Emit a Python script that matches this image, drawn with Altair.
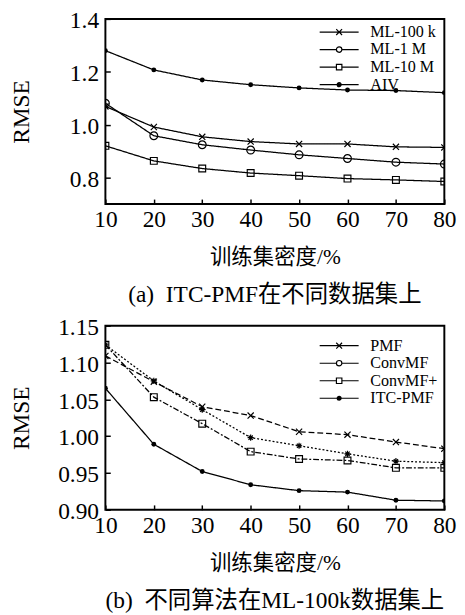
import altair as alt
import pandas as pd

# ---------------- data ----------------
density = [10, 20, 30, 40, 50, 60, 70, 80]

# (a) ITC-PMF on different datasets
names_a = ["ML-100 k", "ML-1 M", "ML-10 M", "AIV"]
ml100k = [1.069, 0.991, 0.954, 0.936, 0.927, 0.927, 0.916, 0.914]
ml1m = [1.081, 0.958, 0.924, 0.904, 0.886, 0.872, 0.858, 0.851]
ml10m = [0.920, 0.863, 0.834, 0.817, 0.807, 0.796, 0.791, 0.785]
aiv = [1.280, 1.207, 1.169, 1.151, 1.139, 1.131, 1.129, 1.121]
yticks_a = [0.8, 1.0, 1.2, 1.4]

# (b) different algorithms on ML-100k
names_b = ["PMF", "ConvMF", "ConvMF+", "ITC-PMF"]
pmf = [1.109, 1.074, 1.040, 1.028, 1.006, 1.002, 0.992, 0.983]
convmf = [1.124, 1.075, 1.036, 0.998, 0.987, 0.976, 0.966, 0.964]
convmf_plus = [1.124, 1.053, 1.017, 0.979, 0.969, 0.967, 0.957, 0.957]
itc_pmf = [1.065, 0.989, 0.952, 0.934, 0.926, 0.924, 0.913, 0.912]
yticks_b = [0.90, 0.95, 1.00, 1.05, 1.10, 1.15]

x_title = "训练集密度/%"
y_title = "RMSE"
caption_a = "(a)\u00a0\u00a0ITC-PMF在不同数据集上"
caption_b = "(b)\u00a0\u00a0不同算法在ML-100k数据集上"

FONT = "Liberation Serif, Noto Sans CJK SC"

# ---------------- marker shapes ----------------
X_PATH = "M-1,-1L1,1M-1,1L1,-1"
STAR_PATH = "M-1,0L1,0M0,-1L0,1M-0.7,-0.7L0.7,0.7M-0.7,0.7L0.7,-0.7"

# legend symbols: a short line with the marker in its middle (unit = 8 px)
LEG_X = "M-4,0H1M-1.875,-0.375L-1.125,0.375M-1.875,0.375L-1.125,-0.375"
LEG_O = ("M-4,0H-1.85M-1.15,0H1"
         "M-1.15,0A0.35,0.35 0 1,1 -1.85,0A0.35,0.35 0 1,1 -1.15,0")
LEG_S = "M-4,0H-1.85M-1.15,0H1M-1.85,-0.35H-1.15V0.35H-1.85Z"
LEG_D = ("M-4,0H1M-1.25,0A0.25,0.25 0 1,1 -1.75,0A0.25,0.25 0 1,1 -1.25,0"
         "M-1.38,0A0.12,0.12 0 1,1 -1.62,0A0.12,0.12 0 1,1 -1.38,0")
LEGEND_PATHS = [LEG_X, LEG_O, LEG_S, LEG_D]


def long_df(names, series):
    rows = []
    for n, s in zip(names, series):
        for xv, v in zip(density, s):
            rows.append({"density": xv, "rmse": v, "series": n})
    return pd.DataFrame(rows)


def panel(df, names, markers, dashes, legend_y, ydomain, yvalues, yformat,
          height, caption):
    base = alt.Chart(df)
    x = alt.X(
        "density:Q",
        scale=alt.Scale(domain=[10, 80], nice=False),
        axis=alt.Axis(values=density, title=x_title, format="d"),
    )
    y = alt.Y(
        "rmse:Q",
        scale=alt.Scale(domain=ydomain, nice=False, zero=False),
        axis=alt.Axis(values=yvalues, format=yformat, title=y_title,
                      titleX=-84, titleY=height / 2),
    )
    layers = []
    for n, dash in zip(names, dashes):
        layers.append(
            base.transform_filter(alt.datum.series == n)
            .mark_line(color="black", strokeWidth=1.3, strokeDash=dash, clip=True)
            .encode(x=x, y=y)
        )
    for n, (shape, size, filled) in zip(names, markers):
        layers.append(
            base.transform_filter(alt.datum.series == n)
            .mark_point(shape=shape, size=size, filled=filled, color="black",
                        strokeWidth=1.2, opacity=1, clip=True)
            .encode(x=x, y=y)
        )
    legend_layer = (
        base.transform_filter("datum.rmse < 0")
        .mark_point(filled=False, color="black", strokeWidth=1.2, opacity=1)
        .encode(
            x=x, y=y,
            shape=alt.Shape(
                "series:N",
                scale=alt.Scale(domain=names, range=LEGEND_PATHS),
                legend=alt.Legend(
                    title=None, orient="none", legendX=243, legendY=legend_y,
                    symbolSize=256, symbolStrokeWidth=1.2,
                    symbolStrokeColor="black", symbolFillColor="transparent",
                    labelFont=FONT, labelFontSize=16.5, labelColor="black",
                    labelOffset=11, rowPadding=0, padding=0,
                ),
            ),
        )
    )
    layers.append(legend_layer)
    return alt.layer(*layers).properties(
        width=348, height=height,
        title=alt.Title(caption, orient="bottom", anchor="middle", frame="group",
                        font=FONT, fontSize=24, fontWeight="normal",
                        color="black", offset=17),
    )


df_a = long_df(names_a, [ml100k, ml1m, ml10m, aiv])
df_b = long_df(names_b, [pmf, convmf, convmf_plus, itc_pmf])

markers_a = [(X_PATH, 40, False), ("circle", 64, False), ("square", 49, False),
             ("circle", 25, True)]
markers_b = [(X_PATH, 40, False), (STAR_PATH, 40, False), ("square", 49, False),
             ("circle", 25, True)]

chart_a = panel(df_a, names_a, markers_a, [[1, 0]] * 4, 4.5,
                [0.7, 1.4], yticks_a, ".1f", 190, caption_a)
chart_b = panel(df_b, names_b, markers_b, [[6, 3], [2, 2], [6, 2, 2, 2], [1, 0]],
                11.5, [0.9, 1.15], yticks_b, ".2f", 189, caption_b)

chart = (
    alt.vconcat(chart_a, chart_b, spacing=7)
    .resolve_scale(shape="independent")
    .resolve_legend(shape="independent")
    .properties(padding={"left": 0, "top": -8, "right": 0, "bottom": 0})
    .configure_view(stroke="black", strokeWidth=2)
    .configure_axis(
        domain=False, grid=False,
        ticks=True, tickSize=5, tickColor="black", tickWidth=1.5,
        labelFont=FONT, labelFontSize=24, labelColor="black",
        titleFont=FONT, titleFontSize=22, titleFontWeight="normal",
        titleColor="black",
    )
    .configure_axisX(offset=-5, labelPadding=4, titlePadding=16,
                     labelFlush=False, labelOverlap=False)
    .configure_axisY(offset=-5, labelPadding=7, labelOffset=2,
                     titleFontSize=24, titleBaseline="alphabetic")
)

chart.save("out.html", embed_options={"renderer": "svg", "actions": False})
